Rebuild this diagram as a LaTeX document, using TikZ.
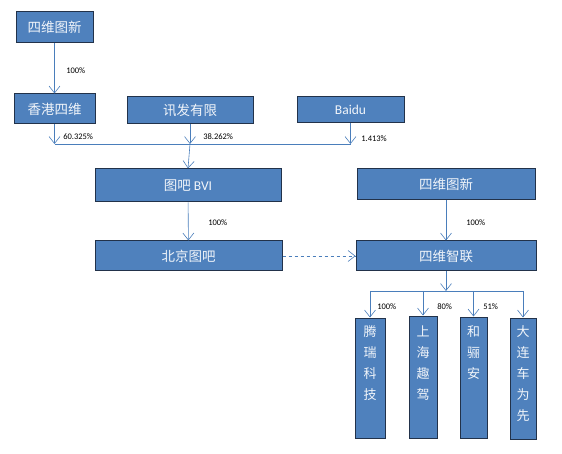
\documentclass[tikz,border=0pt]{standalone}
\usepackage{fontspec}
\setmainfont{Carlito}
\newfontfamily\cjk{Noto Sans CJK SC}
\usepackage{xcolor}
\usetikzlibrary{arrows.meta}
\definecolor{boxblue}{HTML}{4F81BD}
\definecolor{boxline}{HTML}{22324A}
\definecolor{lineblue}{HTML}{4A7EBB}

\begin{document}
\begin{tikzpicture}[x=1pt,y=-1pt,semithick]
\tikzstyle{box}=[draw=boxline,line width=1pt,fill=boxblue,text=white!92!boxblue,inner sep=0pt,
  font=\cjk\fontsize{13.5}{16}\selectfont]
\tikzstyle{vtext}=[text=white!92!boxblue,inner sep=0pt,anchor=north,align=center,
  font=\cjk\fontsize{13}{21}\selectfont]
\tikzstyle{pct}=[anchor=west,inner sep=0pt,font=\fontsize{8.5}{10}\selectfont]
\tikzstyle{link}=[draw=lineblue,-{Straight Barb[length=7pt,width=11pt]}]

\useasboundingbox (0,0) rectangle (562,454);

% upper part
\node[box,minimum width=77,minimum height=31] (swa) at (54.5,27.5) {四维图新};
\node[box,minimum width=81,minimum height=30] (hk) at (54.5,109) {香港四维};
\node[box,minimum width=126,minimum height=27] (xf) at (190,110.5) {讯发有限};
\node[box,minimum width=107,minimum height=26,font=\fontsize{13.5}{16}\selectfont] (bd) at (350.5,110) {Baidu};
\node[box,minimum width=186,minimum height=33] (bvi) at (188,185.5) {图吧 {\normalfont BVI}};
\node[box,minimum width=187,minimum height=30] (bj) at (188.5,256) {北京图吧};
\node[box,minimum width=178,minimum height=31] (swb) at (446,184.5) {四维图新};
\node[box,minimum width=180,minimum height=30] (zl) at (446,256) {四维智联};

% lower part
\node[box,minimum width=30,minimum height=120] (tr) at (370,378) {};
\node[box,minimum width=28,minimum height=122] (sh) at (423,377) {};
\node[box,minimum width=27,minimum height=121] (ha) at (473.5,377.5) {};
\node[box,minimum width=26,minimum height=121] (dl) at (523,378.5) {};
\node[vtext,yshift=-8pt] (trt) at (tr.north) {腾\\瑞\\科\\技};
\node[vtext,yshift=-10pt] (sht) at (sh.north) {上\\海\\趣\\驾};
\node[vtext,yshift=-9pt] (hat) at (ha.north) {和\\骊\\安};
\node[vtext,yshift=-8pt] (dlt) at (dl.north) {大\\连\\车\\为\\先};

\coordinate (busa) at (0,144);
\coordinate (busb) at (0,291);

\path[link] (swa) -- (hk);
\path[link] (hk.south) -- (hk.south |- busa);
\path[link] (xf.south) -- (xf.south |- busa);
\path[link] (bd.south) -- (bd.south |- busa);
\draw[lineblue] (hk.south |- busa) -- (bd.south |- busa);
\path[link] (xf.south |- busa) -- (bvi.north);
\path[link] (bvi) -- (bj);
\path[link] (swb) -- (zl);
\path[link,dashed] (bj) -- (zl);
\path[link] (zl.south) -- (zl.south |- busb);
\draw[lineblue] (tr.north |- busb) -- (dl.north |- busb);
\foreach \n in {tr,sh,ha,dl}
  \path[link] (\n.north |- busb) -- (\n.north);

% shares
\node[pct] (pa) at (66,71) {100\%};
\node[pct] (pb) at (63,137) {60.325\%};
\node[pct] (pc) at (203,137) {38.262\%};
\node[pct] (pd) at (361,139) {1.413\%};
\node[pct] (pe) at (208,223) {100\%};
\node[pct] (pf) at (466,223) {100\%};
\node[pct] (pg) at (377,307) {100\%};
\node[pct] (ph) at (437,307) {80\%};
\node[pct] (pi) at (483,307) {51\%};

\end{tikzpicture}
\end{document}
